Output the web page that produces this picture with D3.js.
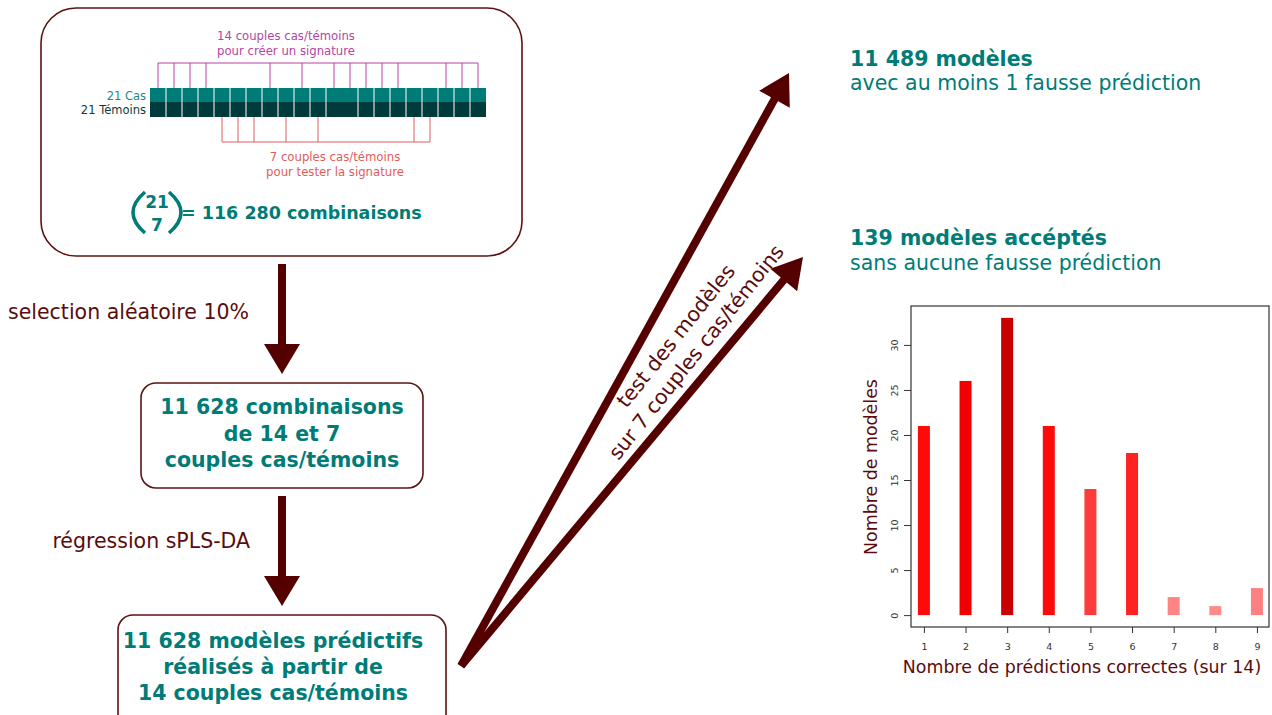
<!DOCTYPE html>
<html>
<head>
<meta charset="utf-8">
<script src="https://cdn.jsdelivr.net/npm/d3@7"></script>
<style>
  html, body { margin: 0; padding: 0; background: #fff; }
  svg { display: block; font-family: "DejaVu Sans", sans-serif; }
</style>
</head>
<body>
<svg id="chart" width="1272" height="715"></svg>
<script>
// ---------- data ----------
const categories = [1, 2, 3, 4, 5, 6, 7, 8, 9];
const counts = [21, 26, 33, 21, 14, 18, 2, 1, 3];
const barColors = ["#ff0a0a", "#f20000", "#c80000", "#ff0a0a", "#ff3c3c", "#ff2222", "#ff8585", "#ff8a8a", "#ff8080"];
const yTicks = [0, 5, 10, 15, 20, 25, 30];
const pairIndex = d3.range(21);
const trainPairs = [0, 1, 2, 3, 7, 9, 11, 12, 13, 14, 15, 18, 19, 20];
const testPairs = [4, 5, 6, 8, 10, 16, 17];
const mergedPair = 11; // no separator after this cell in the picture

const TEAL = "#007c78";
const MAROON = "#550000";
const BOXSTROKE = "#5e1212";
const TXTRED = "#5a0c0c";
const MAGENTA = "#b645a2";
const SALMON = "#e05c5c";

const svg = d3.select("#chart");

// ---------- top box ----------
svg.append("rect").attr("x", 41).attr("y", 8).attr("width", 481).attr("height", 248)
  .attr("rx", 35).attr("fill", "none").attr("stroke", BOXSTROKE).attr("stroke-width", 1.6);

const px = d3.scaleLinear().domain([0, 21]).range([150, 486]);
const cw = px(1) - px(0);
const g = svg.append("g");
// cells
g.selectAll("rect.cas").data(pairIndex).join("rect")
  .attr("x", d => px(d)).attr("y", 88).attr("width", cw).attr("height", 14).attr("fill", TEAL);
g.selectAll("rect.tem").data(pairIndex).join("rect")
  .attr("x", d => px(d)).attr("y", 102).attr("width", cw).attr("height", 15).attr("fill", "#003b3b");
// separators
g.selectAll("line.sep").data(pairIndex.slice(1).filter(d => d !== mergedPair + 1)).join("line")
  .attr("x1", d => px(d)).attr("x2", d => px(d)).attr("y1", 88).attr("y2", 117)
  .attr("stroke", "#fff").attr("stroke-width", 1);

// train brackets (top)
const cx = d => px(d) + cw / 2;
g.append("line").attr("x1", cx(d3.min(trainPairs))).attr("x2", cx(d3.max(trainPairs)))
  .attr("y1", 63).attr("y2", 63).attr("stroke", MAGENTA).attr("stroke-width", 1);
g.selectAll("line.tr").data(trainPairs).join("line")
  .attr("x1", cx).attr("x2", cx).attr("y1", 63).attr("y2", 88)
  .attr("stroke", MAGENTA).attr("stroke-width", 1);
// test brackets (bottom)
g.append("line").attr("x1", cx(d3.min(testPairs))).attr("x2", cx(d3.max(testPairs)))
  .attr("y1", 142).attr("y2", 142).attr("stroke", SALMON).attr("stroke-width", 1);
g.selectAll("line.te").data(testPairs).join("line")
  .attr("x1", cx).attr("x2", cx).attr("y1", 117).attr("y2", 142)
  .attr("stroke", SALMON).attr("stroke-width", 1);

g.append("text").attr("x", 146).attr("y", 100).attr("text-anchor", "end")
  .attr("font-size", 11.5).attr("fill", "#1a8a86").text("21 Cas");
g.append("text").attr("x", 146).attr("y", 114).attr("text-anchor", "end")
  .attr("font-size", 11.5).attr("fill", "#0d3b3b").text("21 Témoins");

const magText = g.append("text").attr("text-anchor", "middle").attr("font-size", 11.7).attr("fill", MAGENTA);
magText.append("tspan").attr("x", 286).attr("y", 40).text("14 couples cas/témoins");
magText.append("tspan").attr("x", 286).attr("y", 55).text("pour créer un signature");
const redText = g.append("text").attr("text-anchor", "middle").attr("font-size", 11.7).attr("fill", SALMON);
redText.append("tspan").attr("x", 335).attr("y", 161).text("7 couples cas/témoins");
redText.append("tspan").attr("x", 335).attr("y", 176).text("pour tester la signature");

// binomial formula
g.append("path").attr("d", "M145,192 Q121,212.5 145,233").attr("fill", "none").attr("stroke", TEAL).attr("stroke-width", 3.6);
g.append("path").attr("d", "M169,192 Q193,212.5 169,233").attr("fill", "none").attr("stroke", TEAL).attr("stroke-width", 3.6);
g.append("text").attr("x", 157).attr("y", 208).attr("text-anchor", "middle").attr("font-size", 17).attr("font-weight", "bold").attr("fill", TEAL).text("21");
g.append("text").attr("x", 157).attr("y", 231).attr("text-anchor", "middle").attr("font-size", 17).attr("font-weight", "bold").attr("fill", TEAL).text("7");
g.append("text").attr("x", 181).attr("y", 219).attr("font-size", 17.5).attr("font-weight", "bold").attr("fill", TEAL).text("= 116 280 combinaisons");

// ---------- vertical arrows ----------
function vArrow(x, y0, y1) {
  svg.append("rect").attr("x", x - 4).attr("y", y0).attr("width", 8).attr("height", y1 - 30 - y0 + 1).attr("fill", MAROON);
  svg.append("path").attr("d", `M${x - 18},${y1 - 30} L${x + 18},${y1 - 30} L${x},${y1} Z`).attr("fill", MAROON);
}
vArrow(282, 264, 374);
vArrow(282, 496, 606);

svg.append("text").attr("x", 8).attr("y", 319).attr("font-size", 20.5).attr("fill", TXTRED).text("selection aléatoire 10%");
svg.append("text").attr("x", 250).attr("y", 548).attr("text-anchor", "end").attr("font-size", 20.5).attr("fill", TXTRED).text("régression sPLS-DA");

// ---------- boxes 2 and 3 ----------
function box(x, y, w, h, lines, baselines, cxm) {
  svg.append("rect").attr("x", x).attr("y", y).attr("width", w).attr("height", h).attr("rx", 15)
    .attr("fill", "none").attr("stroke", BOXSTROKE).attr("stroke-width", 1.6);
  const t = svg.append("text").attr("text-anchor", "middle").attr("font-size", 20.5)
    .attr("font-weight", "bold").attr("fill", TEAL);
  lines.forEach((l, i) => t.append("tspan").attr("x", cxm).attr("y", baselines[i]).text(l));
}
box(141, 383, 282, 105, ["11 628 combinaisons", "de 14 et 7", "couples cas/témoins"], [414, 440.5, 467], 282);
box(118, 615, 328, 120, ["11 628 modèles prédictifs", "réalisés à partir de", "14 couples cas/témoins"], [648, 674, 700], 273);

// ---------- diagonal arrows ----------
function dArrow(x0, y0, tx, ty) {
  const dx = tx - x0, dy = ty - y0, L = Math.hypot(dx, dy);
  const ux = dx / L, uy = dy / L, nx = -uy, ny = ux;
  const bx = tx - 30 * ux, by = ty - 30 * uy;
  svg.append("line").attr("x1", x0).attr("y1", y0).attr("x2", bx + ux).attr("y2", by + uy)
    .attr("stroke", MAROON).attr("stroke-width", 8);
  svg.append("path").attr("d", `M${bx + 17.5 * nx},${by + 17.5 * ny} L${bx - 17.5 * nx},${by - 17.5 * ny} L${tx},${ty} Z`).attr("fill", MAROON);
}
dArrow(461, 666, 789, 73);
dArrow(461, 666, 803, 257);

const rt = svg.append("g").attr("transform", "translate(686,344) rotate(-51.5)");
rt.append("text").attr("x", 0).attr("y", -13 + 7).attr("text-anchor", "middle").attr("font-size", 20.5).attr("fill", TXTRED).text("test des modèles");
rt.append("text").attr("x", 0).attr("y", 13 + 7).attr("text-anchor", "middle").attr("font-size", 20.5).attr("fill", TXTRED).text("sur 7 couples cas/témoins");

// ---------- right texts ----------
svg.append("text").attr("x", 850).attr("y", 65.5).attr("font-size", 20.5).attr("font-weight", "bold").attr("fill", TEAL).text("11 489 modèles");
svg.append("text").attr("x", 850).attr("y", 90).attr("font-size", 20.5).attr("fill", TEAL).text("avec au moins 1 fausse prédiction");
svg.append("text").attr("x", 850).attr("y", 245).attr("font-size", 20.5).attr("font-weight", "bold").attr("fill", TEAL).text("139 modèles accéptés");
svg.append("text").attr("x", 850).attr("y", 270).attr("font-size", 20.5).attr("fill", TEAL).text("sans aucune fausse prédiction");

// ---------- bar chart ----------
const plot = { l: 911, r: 1269, t: 306, b: 627 };
const x = d3.scaleLinear().domain([0.69, 9.29]).range([plot.l, plot.r]);
const y = d3.scaleLinear().domain([-1.32, 34.32]).range([plot.b, plot.t]);
const bars = categories.map((c, i) => ({ c, v: counts[i], col: barColors[i] }));
svg.append("g").selectAll("rect").data(bars).join("rect")
  .attr("x", d => x(d.c) - 6).attr("width", 12)
  .attr("y", d => y(d.v)).attr("height", d => y(0) - y(d.v))
  .attr("fill", d => d.col);

svg.append("rect").attr("x", plot.l).attr("y", plot.t).attr("width", plot.r - plot.l).attr("height", plot.b - plot.t)
  .attr("fill", "none").attr("stroke", "#333").attr("stroke-width", 1.2);

const xAxis = svg.append("g").attr("transform", `translate(0,${plot.b})`)
  .call(d3.axisBottom(x).tickValues(categories).tickSize(6).tickPadding(10).tickFormat(d3.format("d")));
xAxis.select(".domain").remove();
xAxis.selectAll("line").attr("stroke", "#333");
xAxis.selectAll("text").attr("font-size", 9.5).attr("fill", "#333").attr("font-family", "DejaVu Sans");

const yAxis = svg.append("g").attr("transform", `translate(${plot.l},0)`)
  .call(d3.axisLeft(y).tickValues(yTicks).tickSize(7).tickFormat(d3.format("d")));
yAxis.select(".domain").remove();
yAxis.selectAll("line").attr("stroke", "#333");
yAxis.selectAll("text").attr("font-size", 9.5).attr("fill", "#333").attr("font-family", "DejaVu Sans")
  .attr("text-anchor", "middle").attr("dy", null).attr("x", null)
  .attr("transform", "translate(-13,0) rotate(-90)").attr("y", 0);

svg.append("text").attr("transform", "translate(877,467) rotate(-90)").attr("text-anchor", "middle")
  .attr("font-size", 17.4).attr("fill", TXTRED).text("Nombre de modèles");
svg.append("text").attr("x", 1082).attr("y", 672.5).attr("text-anchor", "middle")
  .attr("font-size", 17.4).attr("fill", TXTRED).text("Nombre de prédictions correctes (sur 14)");
</script>
</body>
</html>
